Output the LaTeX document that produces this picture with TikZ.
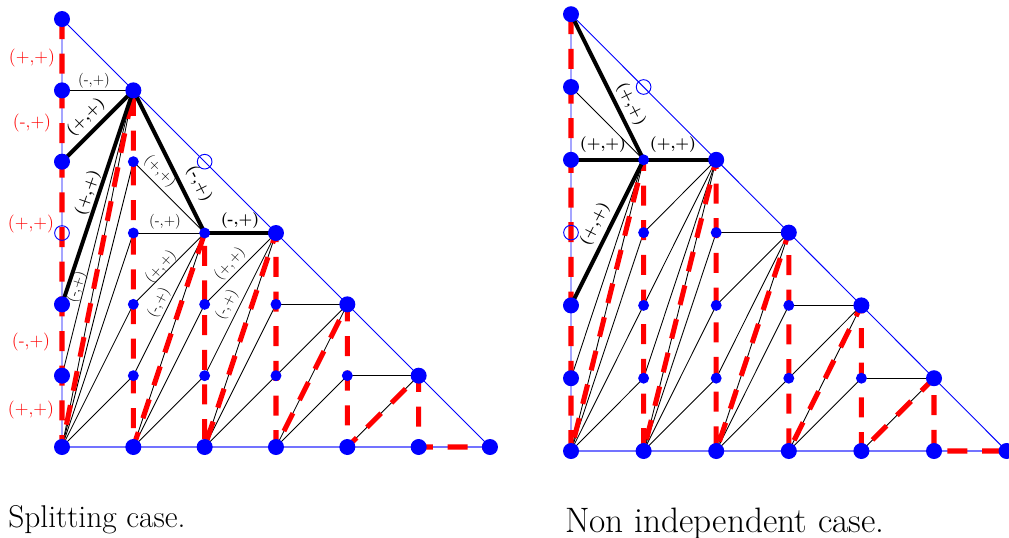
\documentclass[tikz,border=0pt]{standalone}
\tikzset{
  bigdot/.style={circle, fill=blue, inner sep=0pt, minimum size=12pt},
  smalldot/.style={circle, fill=blue, inner sep=0pt, minimum size=8.2pt},
  hollowdot/.style={circle, draw=blue, fill=none, inner sep=0pt, minimum size=11pt, line width=0.7pt},
  edgethin/.style={black, line width=0.65pt},
  edgethick/.style={black, line width=3pt},
  reddash/.style={red, line width=3.8pt, dash pattern=on 15pt off 11pt, line join=bevel},
  bluehyp/.style={blue, line width=0.7pt},
  bluebase/.style={blue!55, line width=1.8pt},
  redlab/.style={red, font=\fontsize{13.5}{15}\selectfont, inner sep=0pt},
  smalllab/.style={black, font=\fontsize{11.2}{12}\selectfont, inner sep=0pt},
  boldlab/.style={black, font=\fontsize{11.8}{13}\selectfont\bfseries, inner sep=0pt},
  caption/.style={inner sep=0pt, anchor=base west}
}
\begin{document}
\begin{tikzpicture}[x=0.75pt,y=-0.75pt]
\useasboundingbox (0,0) rectangle (1009,537);
\foreach \i in {0,...,6}{
  \foreach \j in {0,...,6}{
    \pgfmathtruncatemacro\s{\i+\j}
    \ifnum\s<7
      \coordinate (A\i\j) at ({62+71.33*\i},{447-71.33*\j});
      \coordinate (B\i\j) at ({571+72.6*\i},{451-72.8*\j});
    \fi
  }
}
% outlines
\draw[bluehyp] (A00) -- (A06) -- (A60);
\draw[bluebase] (A00) -- (A60);
\draw[bluehyp] (B00) -- (B06) -- (B60);
\draw[bluebase] (B00) -- (B60);
% thin edges
\foreach \a/\b in {A15/A00, A15/A01, A15/A05, A00/A11, A00/A12, A00/A13, A00/A14,
  A23/A10, A23/A11, A23/A12, A23/A13, A23/A14, A10/A21, A10/A22,
  A33/A20, A33/A21, A33/A22, A20/A31, A20/A32,
  A42/A30, A42/A31, A42/A32, A30/A41, A51/A40, A51/A41,
  B14/B00, B14/B01, B14/B05, B00/B11, B00/B12, B00/B13,
  B24/B10, B24/B11, B24/B12, B24/B13, B10/B21, B10/B22, B10/B23,
  B33/B20, B33/B21, B33/B22, B33/B23, B20/B31, B20/B32,
  B42/B30, B42/B31, B42/B32, B30/B41, B51/B40, B51/B41}
  \draw[edgethin] (\a) -- (\b);
% red dashed paths
\draw[reddash] (A06) -- (A00) -- (A15) -- (A10) -- (A23) -- (A20) -- (A33) -- (A30) -- (A42) -- (A40) -- (A51) -- (A50) -- (A60);
\draw[reddash] (B06) -- (B00) -- (B14) -- (B10) -- (B24) -- (B20) -- (B33) -- (B30) -- (B42) -- (B40) -- (B51) -- (B50) -- (B60);
% thick edges
\foreach \a/\b in {A15/A02, A15/A04, A15/A23, A23/A33, B14/B06, B14/B04, B14/B02, B14/B24}
  \draw[edgethick] (\a) -- (\b);
% dots
\foreach \p in {A00,A01,A02,A04,A05,A06,A10,A20,A30,A40,A50,A60,A15,A33,A42,A51,
                B00,B01,B02,B04,B05,B06,B10,B20,B30,B40,B50,B60,B24,B33,B42,B51}
  \node[bigdot] (d\p) at (\p) {};
\foreach \p in {A11,A12,A13,A14,A21,A22,A23,A31,A32,A41,
                B11,B12,B13,B14,B21,B22,B23,B31,B32,B41}
  \node[smalldot] (d\p) at (\p) {};
\foreach \p in {A03,A24,B03,B15}
  \node[hollowdot] (d\p) at (\p) {};
% red labels
\node[redlab] (r1) at (32,58) {(+,+)};
\node[redlab] (r2) at (32,123) {(-,+)};
\node[redlab] (r3) at (31,224) {(+,+)};
\node[redlab] (r4) at (31,342) {(-,+)};
\node[redlab] (r5) at (31,410) {(+,+)};
% left labels
\node[smalllab] (l1) at (94,81) {(-,+)};
\node[boldlab, rotate=45] (l2) at (86,117) {(+,+)};
\node[boldlab, rotate=71] (l3) at (88,193) {(+,+)};
\node[smalllab, rotate=-45] (l4) at (160,171) {(+,+)};
\node[boldlab, rotate=-63] (l5) at (199,184) {(-,+)};
\node[smalllab] (l6) at (165,222) {(-,+)};
\node[boldlab] (l7) at (240,221) {(-,+)};
\node[smalllab, rotate=48] (l8) at (161,267) {(+,+)};
\node[smalllab, rotate=63] (l9) at (159,303) {(-,+)};
\node[smalllab, rotate=48] (l10) at (230,264) {(+,+)};
\node[smalllab, rotate=63] (l11) at (227,305) {(-,+)};
\node[smalllab, rotate=72] (l12) at (77,287) {(-,+)};
% right labels
\node[boldlab, rotate=-63] (m1) at (631,104) {(+,+)};
\node[boldlab] (m2) at (603,145) {(+,+)};
\node[boldlab] (m3) at (673,145) {(+,+)};
\node[boldlab, rotate=63] (m4) at (595,224) {(+,+)};
% captions
\node[caption, font=\fontsize{23.6}{27}\selectfont] (c1) at (8,527) {Splitting case.};
\node[caption, font=\fontsize{26.5}{30}\selectfont] (c2) at (565,532) {Non independent case.};
\end{tikzpicture}
\end{document}
